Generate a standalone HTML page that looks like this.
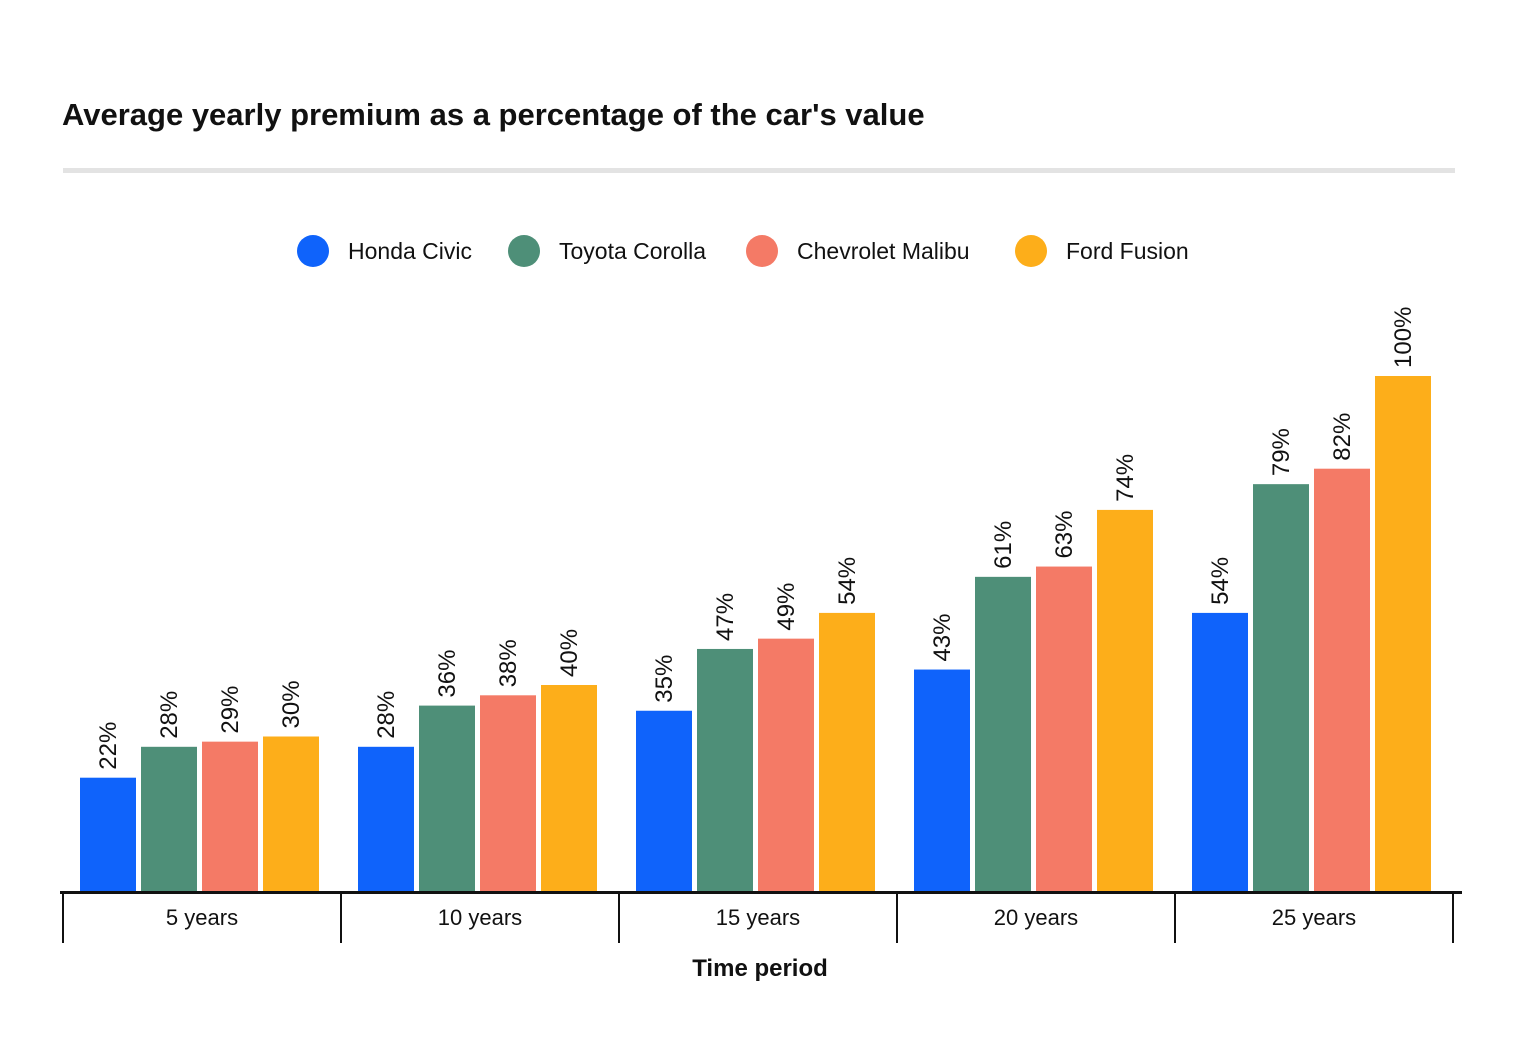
<!DOCTYPE html>
<html><head><meta charset="utf-8"><style>
body{margin:0;background:#fff;font-family:"Liberation Sans",Arial,sans-serif}
svg text{font-family:"Liberation Sans",Arial,sans-serif}
</style></head><body>
<svg id="chart" width="1520" height="1056" viewBox="0 0 1520 1056" xmlns="http://www.w3.org/2000/svg">
<text x="62" y="125" font-size="31" font-weight="bold" fill="#111">Average yearly premium as a percentage of the car's value</text>
<rect x="63" y="168" width="1392" height="5" fill="#e3e3e3"/>
<g id="legend"></g>
<g id="bars"></g>
<g id="axis"></g>
<text x="760" y="976" font-size="24" font-weight="bold" text-anchor="middle" fill="#111">Time period</text>
</svg>
<script>
const categories = ["5 years","10 years","15 years","20 years","25 years"];
const seriesNames = ["Honda Civic","Toyota Corolla","Chevrolet Malibu","Ford Fusion"];
const hondaCivic = [22,28,35,43,54];
const toyotaCorolla = [28,36,47,61,79];
const chevroletMalibu = [29,38,49,63,82];
const fordFusion = [30,40,54,74,100];
const series = [hondaCivic,toyotaCorolla,chevroletMalibu,fordFusion];
const colors = ["#0f63fb","#4e8f78","#f47a66","#fdae1a"];

const NS="http://www.w3.org/2000/svg";
const x0=63, catW=278, base=891, plotH=515, maxV=100;
const y = v => base - v/maxV*plotH;
const xBar = (c,s) => x0 + c*catW + 17 + s*61;

const bars=document.getElementById('bars');
series.forEach((vals,s)=>{
  vals.forEach((v,c)=>{
    const r=document.createElementNS(NS,'rect');
    
    
    const bx=xBar(c,s);
    r.setAttribute('x',bx);r.setAttribute('y',y(v));
    r.setAttribute('width',56);r.setAttribute('height',base-y(v));
    r.setAttribute('fill',colors[s]);
    bars.appendChild(r);
    const t=document.createElementNS(NS,'text');
    
    
    const cx=bx+28+8, ty=y(v)-8;
    t.setAttribute('transform','translate('+cx+','+ty+') rotate(-90)');
    t.setAttribute('font-size','24');t.setAttribute('fill','#111');
    t.textContent=v+'%';
    bars.appendChild(t);
  });
});

const axis=document.getElementById('axis');
const line=document.createElementNS(NS,'rect');


line.setAttribute('x',60);line.setAttribute('y',base);line.setAttribute('width',1402);line.setAttribute('height',3);line.setAttribute('fill','#111');
axis.appendChild(line);
for(let i=0;i<=categories.length;i++){
  const tk=document.createElementNS(NS,'rect');
  
  
  tk.setAttribute('x',x0+i*catW-1);tk.setAttribute('y',base);tk.setAttribute('width',2);tk.setAttribute('height',52);tk.setAttribute('fill','#111');
  axis.appendChild(tk);
}
categories.forEach((c,i)=>{
  const t=document.createElementNS(NS,'text');
  
  
  t.setAttribute('x',x0+i*catW+catW/2);t.setAttribute('y',925);
  t.setAttribute('font-size','22');t.setAttribute('text-anchor','middle');t.setAttribute('fill','#111');
  t.textContent=c;axis.appendChild(t);
});

const legend=document.getElementById('legend');
const lx=[313,524,762,1031];
seriesNames.forEach((n,i)=>{
  const c=document.createElementNS(NS,'circle');
  
  
  c.setAttribute('cx',lx[i]);c.setAttribute('cy',251);c.setAttribute('r',16);c.setAttribute('fill',colors[i]);
  legend.appendChild(c);
  const t=document.createElementNS(NS,'text');
  
  
  t.setAttribute('x',lx[i]+35);t.setAttribute('y',259);t.setAttribute('font-size','23');t.setAttribute('fill','#111');
  t.textContent=n;legend.appendChild(t);
});
</script>
</body></html>
